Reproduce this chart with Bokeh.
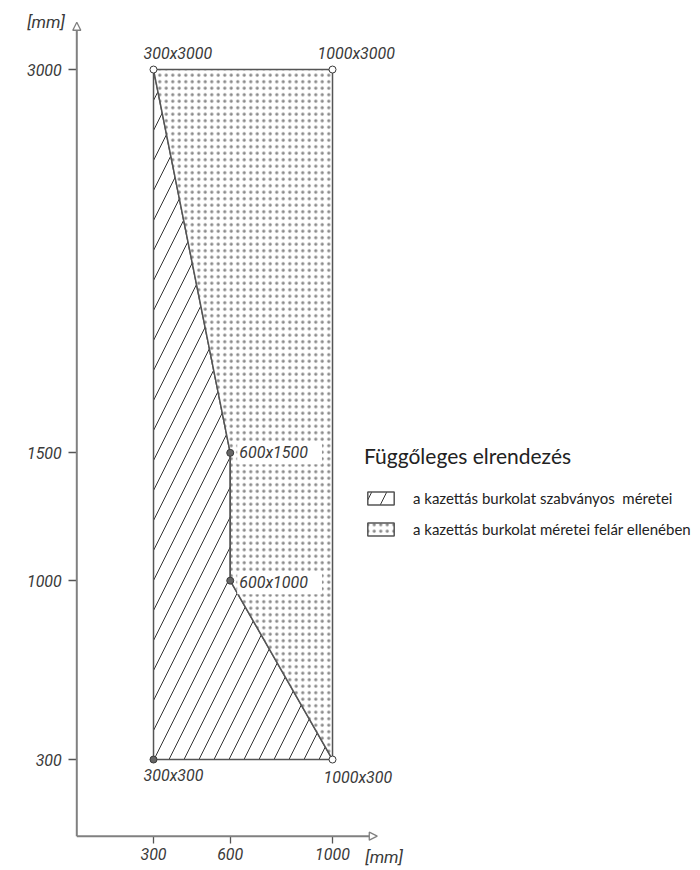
from bokeh.plotting import figure
from bokeh.models import Range1d, FixedTicker, Arrow, NormalHead, Label, Legend, LegendItem
from bokeh.embed import file_html
from bokeh.resources import INLINE

# ---------------- data ----------------
std_x = [300, 300, 600, 600, 1000]          # standard sizes region (hatched)
std_y = [300, 3000, 1500, 1000, 300]
extra_x = [300, 1000, 1000, 600, 600]       # sizes for surcharge (dotted)
extra_y = [3000, 3000, 300, 1000, 1500]
pt_x = [300, 1000, 600, 600, 300, 1000]     # labelled corner points
pt_y = [3000, 3000, 1500, 1000, 300, 300]
pt_filled = [False, False, True, True, True, False]
x_ticks = [300, 600, 1000]
y_ticks = [300, 1000, 1500, 3000]
x_axis_end = 1175
y_axis_end = 3185
unit_label = "[mm]"
legend_title = "Függőleges elrendezés"
legend_labels = ["a kazettás burkolat szabványos  méretei",
                 "a kazettás burkolat méretei felár ellenében"]

# ---------------- layout ----------------
W, H = 700, 868
X0_PX, Y0_PX = 76.3, 835.7          # pixel position of the (0, 0) origin
SX, SY = 179 / 700, 690 / 2700      # pixels per mm
x_start = -X0_PX / SX
x_end = x_start + W / SX
y_end = Y0_PX / SY
y_start = y_end - H / SY

FONT = "Roboto"
INK = "#3a3a3a"
AXIS = "#808080"

p = figure(width=W, height=H, x_range=Range1d(x_start, x_end), y_range=Range1d(y_start, y_end),
           min_border_left=0, min_border_bottom=0, min_border_top=0, min_border_right=0,
           toolbar_location=None, output_backend="svg")
p.outline_line_color = None
p.grid.visible = False
p.background_fill_color = "white"
p.border_fill_color = "white"

for ax, ticks, out, standoff in ((p.xaxis, x_ticks, 7, 5), (p.yaxis, y_ticks, 8, 7)):
    ax.fixed_location = 0
    ax.ticker = FixedTicker(ticks=ticks)
    ax.axis_line_color = None
    ax.major_tick_in = 0
    ax.major_tick_out = out
    ax.minor_tick_line_color = None
    ax.major_tick_line_color = "#555555"
    ax.major_tick_line_width = 1.3
    ax.major_label_standoff = standoff
    ax.major_label_text_font = FONT
    ax.major_label_text_font_style = "italic"
    ax.major_label_text_font_size = "16px"
    ax.major_label_text_color = INK

# regions
r_std = p.patch(std_x, std_y, fill_color="white", hatch_pattern="/", hatch_color="#333333",
                hatch_scale=30, hatch_weight=1, line_color="#555555", line_width=1.5)
r_extra = p.patch(extra_x, extra_y, fill_color="white", hatch_pattern=".", hatch_color="#8a8a8a",
                  hatch_scale=6.5, hatch_weight=1, line_color="#555555", line_width=1.5)

# axes with arrows
for xe, ye in ((0, y_axis_end), (x_axis_end, 0)):
    p.add_layout(Arrow(x_start=0, y_start=0, x_end=xe, y_end=ye, line_color=AXIS, line_width=2,
                       end=NormalHead(size=8, fill_color="white", line_color=AXIS, line_width=1.3)))

# corner points
p.scatter(pt_x, pt_y, size=7, marker="circle",
          fill_color=["#666666" if f else "white" for f in pt_filled],
          line_color=INK, line_width=1)

offsets = [(-15, 16), (-20, 16), (7, 0), (7, -2), (-15, -16), (-14, -18)]
for (x, y), (dx, dy) in zip(zip(pt_x, pt_y), offsets):
    boxed = x == 600
    p.add_layout(Label(x=x, y=y, x_offset=dx, y_offset=dy, text=f"{x}x{y}",
                       text_font=FONT, text_font_style="italic", text_font_size="16px",
                       text_color=INK, text_align="left", text_baseline="middle",
                       background_fill_color="white" if boxed else None,
                       padding=(2, 14, 2, 2) if boxed else 5))

# unit labels
p.add_layout(Label(x=0, y=y_axis_end, x_offset=-12, y_offset=0, text=unit_label,
                   text_font=FONT, text_font_style="italic", text_font_size="17px",
                   text_color=INK, text_align="right", text_baseline="middle"))
p.add_layout(Label(x=x_axis_end, y=0, x_offset=-12, y_offset=-21, text=unit_label,
                   text_font=FONT, text_font_style="italic", text_font_size="17px",
                   text_color=INK, text_align="left", text_baseline="middle"))

legend = Legend(items=[LegendItem(label=legend_labels[0], renderers=[r_std]),
                       LegendItem(label=legend_labels[1], renderers=[r_extra])],
                title=legend_title, location=(364, 330),
                border_line_color=None, background_fill_alpha=0, padding=0, margin=0,
                spacing=13, glyph_width=33, glyph_height=16, label_height=16,
                label_standoff=16, label_text_font="Lato", label_text_font_size="15px",
                label_text_color="#222222", title_text_font="Lato", title_text_font_size="21px",
                title_text_font_style="normal", title_text_color="#222222", title_standoff=21)
p.add_layout(legend)

open("out.html", "w").write(file_html(p, INLINE))
